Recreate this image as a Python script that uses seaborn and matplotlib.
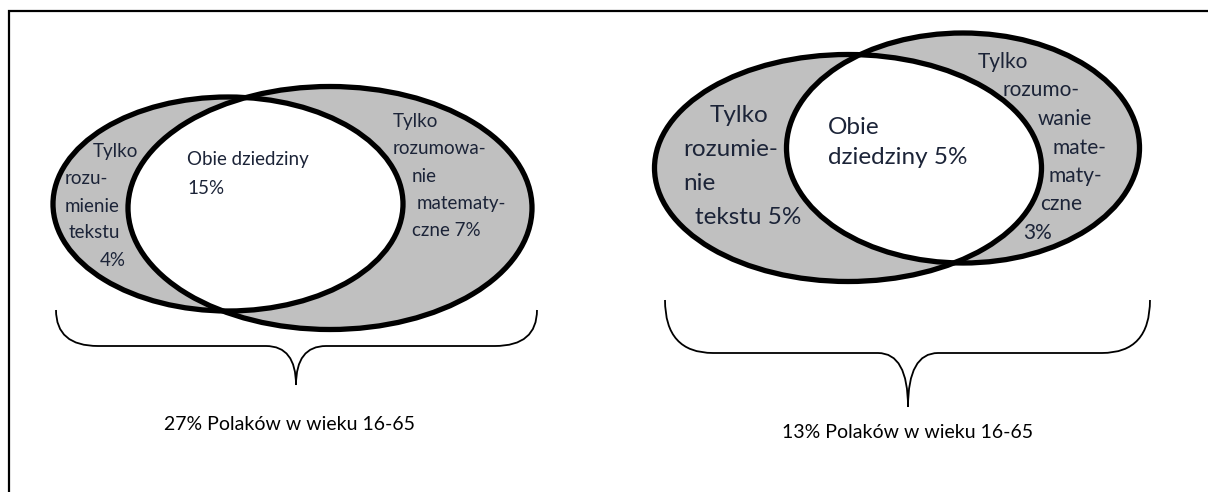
import matplotlib
matplotlib.use("Agg")
import matplotlib.pyplot as plt
import seaborn as sns
from matplotlib.patches import Ellipse, PathPatch
from matplotlib.path import Path

# shares of adults (16-65) with low skills, two surveys
only_text = [4, 5]
both_areas = [15, 5]
only_math = [7, 3]
totals = [27, 13]

FILL = "#c0c0c0"
TXT = "#1c2438"


def put_lines(ax, lines, xs, y0, dy, size):
    """Write each line of a label at its own left x."""
    for i, (line, x) in enumerate(zip(lines, xs)):
        ax.text(x, y0 + i * dy, line, ha="left", va="center",
                fontsize=size, color=TXT)


def draw_venn(ax, a, b):
    """a, b: (cx, cy, w, h) of the two ellipses."""
    ea = Ellipse(a[:2], a[2], a[3], facecolor=FILL, edgecolor="none")
    eb = Ellipse(b[:2], b[2], b[3], facecolor=FILL, edgecolor="none")
    ax.add_patch(ea)
    ax.add_patch(eb)
    inner = Ellipse(a[:2], a[2], a[3], facecolor="white", edgecolor="none")
    ax.add_patch(inner)
    inner.set_clip_path(eb)
    for e in (a, b):
        ax.add_patch(Ellipse(e[:2], e[2], e[3], facecolor="none",
                             edgecolor="black", lw=3.8, zorder=3))


def draw_brace(ax, x0, x1, ytop, ymid, xtip, ytip, r=42):
    verts = [(x0, ytop), (x0, ymid), (x0 + r, ymid),
             (xtip - 30, ymid), (xtip, ymid), (xtip, ytip),
             (xtip, ymid), (xtip + 30, ymid),
             (x1 - r, ymid), (x1, ymid), (x1, ytop)]
    codes = [Path.MOVETO, Path.CURVE3, Path.CURVE3,
             Path.LINETO, Path.CURVE3, Path.CURVE3,
             Path.CURVE3, Path.CURVE3,
             Path.LINETO, Path.CURVE3, Path.CURVE3]
    ax.add_patch(PathPatch(Path(verts, codes), facecolor="none",
                           edgecolor="black", lw=1.3))


sns.set_theme(style="white")
plt.rcParams["font.family"] = ["Lato", "DejaVu Sans"]

fig = plt.figure(figsize=(12.08, 4.92), dpi=100)
ax = fig.add_axes([0, 0, 1, 1])
ax.set_xlim(0, 1208)
ax.set_ylim(492, 0)
ax.axis("off")

# frame (only left and top edges visible)
ax.plot([9, 9, 1208], [492, 11, 11], color="black", lw=1.6,
        solid_joinstyle="miter")

# left diagram
draw_venn(ax, (228, 204, 350, 214), (330, 208, 404, 243))
put_lines(ax, ["Tylko", "rozu-", "mienie", "tekstu", f"{only_text[0]}%"],
          [93, 65, 65, 69, 100], 152, 27, 13.5)
put_lines(ax, ["Obie dziedziny", f"{both_areas[0]}%"], [187, 187], 160, 28,
          13.5)
put_lines(ax, ["Tylko", "rozumowa-", "nie", "matematy-",
               f"czne {only_math[0]}%"],
          [393, 393, 412, 417, 412], 122, 27, 13.5)
draw_brace(ax, 56, 537, 310, 346, 296, 385)
ax.text(290, 425, f"{totals[0]}% Polaków w wieku 16-65", ha="center",
        va="center", fontsize=14, color="black")

# right diagram
draw_venn(ax, (848, 168, 387, 227), (963, 148, 353, 230))
put_lines(ax, ["Tylko", "rozumie-", "nie", f"tekstu {only_text[1]}%"],
          [710, 683, 683, 695], 115, 34, 17.5)
put_lines(ax, ["Obie", f"dziedziny {both_areas[1]}%"], [828, 828], 127, 31,
          17.5)
put_lines(ax, ["Tylko", "rozumo-", "wanie", "mate-", "maty-", "czne",
               f"{only_math[1]}%"],
          [978, 1003, 1038, 1053, 1048, 1040, 1023], 62, 28.5, 15)
draw_brace(ax, 665, 1150, 300, 353, 908, 407, r=48)
ax.text(908, 433, f"{totals[1]}% Polaków w wieku 16-65", ha="center",
        va="center", fontsize=14, color="black")

fig.savefig("out.png", dpi=100)
